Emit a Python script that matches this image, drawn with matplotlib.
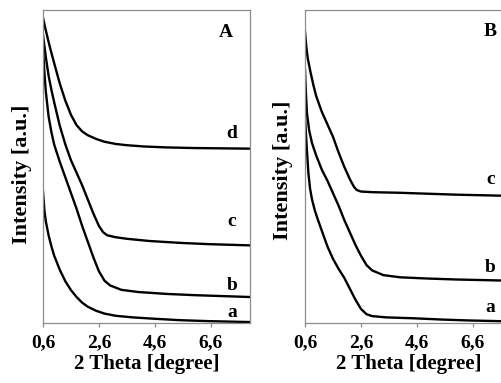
import matplotlib
matplotlib.use("Agg")
import matplotlib.pyplot as plt
from matplotlib.ticker import FixedLocator, FuncFormatter

plt.rcParams['font.family'] = ['Liberation Serif', 'DejaVu Serif']
plt.rcParams['font.weight'] = 'bold'

# panel A curves (2 theta, intensity in arbitrary units)
xa_d = [0.6, 0.7, 0.85, 1.0, 1.2, 1.4, 1.6, 1.8, 2.0, 2.2, 2.5, 2.8, 3.2, 3.6, 4.2, 5.0, 6.0, 7.0, 8.0]
ya_d = [97.5, 93.5, 88, 83, 76.5, 71, 66.5, 63.2, 61.2, 60.0, 58.8, 57.9, 57.2, 56.8, 56.4, 56.1, 55.9, 55.8, 55.7]

xa_c = [0.6, 0.7, 0.8, 0.9, 1.0, 1.2, 1.4, 1.6, 1.8, 2.0, 2.2, 2.4, 2.6, 2.75, 2.9, 3.2, 3.6, 4.4, 5.5, 6.5, 8.0]
ya_c = [92, 85, 79, 74.5, 70.5, 63, 57, 52, 48, 44, 39.5, 35, 31, 29, 28, 27.4, 26.9, 26.2, 25.6, 25.2, 24.8]

xa_b = [0.6, 0.65, 0.7, 0.8, 0.9, 1.0, 1.2, 1.4, 1.6, 1.8, 2.0, 2.2, 2.4, 2.6, 2.8, 3.0, 3.4, 4.0, 5.0, 6.0, 7.0, 8.0]
ya_b = [88, 80, 74, 66, 61, 57, 51.5, 46.5, 41.5, 36.5, 31, 26, 21, 16.5, 13.5, 12, 10.6, 9.9, 9.3, 8.9, 8.6, 8.3]

xa_a = [0.6, 0.65, 0.7, 0.8, 0.9, 1.0, 1.2, 1.4, 1.6, 1.8, 2.0, 2.2, 2.5, 2.8, 3.2, 3.8, 4.5, 5.5, 6.5, 8.0]
ya_a = [42, 36, 32.5, 28, 24.5, 21.5, 17, 13.3, 10.5, 8.3, 6.5, 5.2, 3.9, 3.0, 2.3, 1.8, 1.4, 0.9, 0.6, 0.3]

# panel B curves
xb_c = [0.6, 0.65, 0.7, 0.8, 0.9, 1.0, 1.2, 1.4, 1.6, 1.8, 2.0, 2.2, 2.35, 2.45, 2.6, 3.0, 4.0, 5.0, 6.0, 7.0, 8.0]
yb_c = [93, 88, 84.5, 80, 76, 72.5, 67.5, 63.5, 59.5, 54.5, 50, 46, 43.5, 42.5, 42.0, 41.8, 41.6, 41.3, 41.0, 40.8, 40.6]

xb_b = [0.6, 0.63, 0.67, 0.75, 0.85, 1.0, 1.2, 1.4, 1.6, 1.8, 2.0, 2.2, 2.4, 2.6, 2.8, 3.0, 3.4, 4.0, 5.0, 6.0, 7.0, 8.0]
yb_b = [81, 74, 67, 61.5, 57.5, 53.5, 49, 45.5, 41.5, 37.5, 33, 29, 25, 21.5, 18.5, 16.8, 15.3, 14.6, 14.2, 13.9, 13.7, 13.5]

xb_a = [0.6, 0.63, 0.67, 0.72, 0.78, 0.85, 0.95, 1.05, 1.2, 1.4, 1.6, 1.8, 2.0, 2.2, 2.4, 2.6, 2.8, 3.0, 3.5, 4.5, 5.5, 6.5, 8.0]
yb_a = [66, 61, 55, 48, 43, 39.5, 36, 33.3, 29.5, 24.5, 20.5, 17.3, 14.5, 11, 7.5, 4.5, 2.8, 2.2, 1.8, 1.5, 1.1, 0.8, 0.5]

xticks = [0.6, 2.6, 4.6, 6.6]

fig = plt.figure(figsize=(5.02, 3.83), dpi=100)
axA = fig.add_axes([43/502, 1-323/383, 207/502, 313/383])
axB = fig.add_axes([305/502, 1-323/383, 207/502, 313/383])

def style(ax):
    ax.set_xlim(0.6, 8.0)
    ax.set_ylim(0, 100)
    for s in ax.spines.values():
        s.set_color('#8c8c8c')
        s.set_linewidth(0.9)
    ax.set_yticks([])
    ax.xaxis.set_major_locator(FixedLocator(xticks))
    ax.xaxis.set_major_formatter(FuncFormatter(lambda v, p: ('%.1f' % v).replace('.', ',')))
    ax.tick_params(axis='x', direction='out', length=3, width=0.9, color='#8c8c8c',
                   labelsize=14, pad=5)
    ax.set_xlabel('2 Theta [degree]', fontsize=15, fontweight='bold', labelpad=2)
    ax.set_ylabel('Intensity [a.u.]', fontsize=16, fontweight='bold')

style(axA)
style(axB)
axA.yaxis.set_label_coords(-0.053, 0.476)
axB.yaxis.set_label_coords(-0.058, 0.489)

lw = 1.7
axA.plot(xa_d, ya_d, color='black', lw=lw)
axA.plot(xa_c, ya_c, color='black', lw=lw)
axA.plot(xa_b, ya_b, color='black', lw=lw)
axA.plot(xa_a, ya_a, color='black', lw=lw)

axB.plot(xb_c, yb_c, color='black', lw=lw)
axB.plot(xb_b, yb_b, color='black', lw=lw)
axB.plot(xb_a, yb_a, color='black', lw=lw)

fs = 14
axA.text(7.12, 92.7, 'A', fontsize=fs, fontweight='bold', ha='center', va='center')
axA.text(7.35, 60.7, 'd', fontsize=fs, fontweight='bold', ha='center', va='center')
axA.text(7.35, 32.3, 'c', fontsize=fs, fontweight='bold', ha='center', va='center')
axA.text(7.35, 12.1, 'b', fontsize=fs, fontweight='bold', ha='center', va='center')
axA.text(7.35, 3.5, 'a', fontsize=fs, fontweight='bold', ha='center', va='center')

axB.text(7.23, 93.0, 'B', fontsize=fs, fontweight='bold', ha='center', va='center')
axB.text(7.23, 45.7, 'c', fontsize=fs, fontweight='bold', ha='center', va='center')
axB.text(7.23, 17.6, 'b', fontsize=fs, fontweight='bold', ha='center', va='center')
axB.text(7.23, 5.1, 'a', fontsize=fs, fontweight='bold', ha='center', va='center')

fig.savefig('out.png', dpi=100)
